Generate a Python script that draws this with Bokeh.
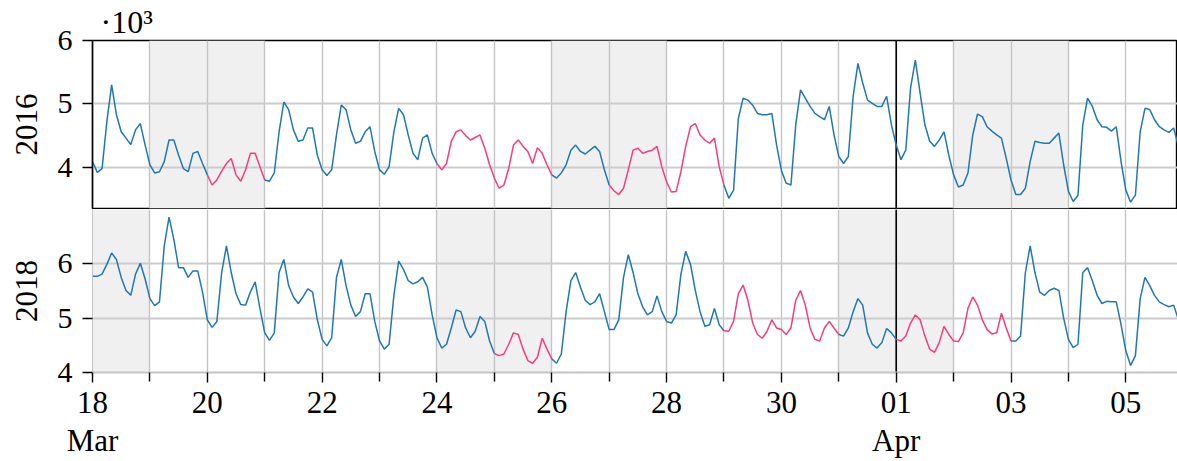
import pandas as pd
from bokeh.plotting import figure
from bokeh.layouts import column
from bokeh.models import (ColumnDataSource, FixedTicker, BoxAnnotation, Span,
                          Range1d, Grid)
from bokeh.embed import file_html
from bokeh.resources import INLINE

# ---------------- data ----------------
# two-hourly samples, Mar 18 00:00 .. Apr 5 22:00, shown on a common Mar/Apr axis
time_index = pd.date_range("2018-03-18 00:00", "2018-04-05 22:00", freq="2h")

# load, thousands (x10^3), 12 samples per day (0h, 2h, ... 22h)
load_2016 = [
    4.09, 3.92, 3.98, 4.72, 5.30, 4.83, 4.56, 4.46, 4.36, 4.59, 4.69, 4.35,  # Mar 18
    4.04, 3.91, 3.93, 4.09, 4.43, 4.43, 4.19, 3.98, 3.93, 4.22, 4.25, 4.06,  # Mar 19
    3.88, 3.72, 3.80, 3.94, 4.06, 4.14, 3.88, 3.78, 3.96, 4.22, 4.22, 4.01,  # Mar 20
    3.80, 3.78, 3.91, 4.56, 5.03, 4.91, 4.59, 4.41, 4.43, 4.62, 4.62, 4.19,  # Mar 21
    3.96, 3.87, 3.96, 4.51, 4.98, 4.91, 4.59, 4.38, 4.41, 4.56, 4.64, 4.25,  # Mar 22
    3.96, 3.89, 4.01, 4.56, 4.93, 4.83, 4.51, 4.22, 4.12, 4.46, 4.51, 4.22,  # Mar 23
    4.06, 3.96, 4.06, 4.41, 4.56, 4.59, 4.50, 4.43, 4.47, 4.51, 4.30, 4.04,  # Mar 24
    3.83, 3.67, 3.72, 3.98, 4.35, 4.43, 4.33, 4.25, 4.06, 4.31, 4.22, 4.04,  # Mar 25
    3.88, 3.83, 3.91, 4.04, 4.27, 4.35, 4.25, 4.21, 4.27, 4.33, 4.25, 3.96,  # Mar 26
    3.72, 3.63, 3.57, 3.67, 3.96, 4.27, 4.30, 4.22, 4.25, 4.27, 4.33, 4.01,  # Mar 27
    3.77, 3.61, 3.62, 3.93, 4.33, 4.64, 4.69, 4.51, 4.43, 4.38, 4.46, 4.01,  # Mar 28
    3.72, 3.51, 3.64, 4.77, 5.09, 5.06, 4.98, 4.85, 4.83, 4.83, 4.85, 4.35,  # Mar 29
    3.95, 3.75, 3.72, 4.67, 5.22, 5.09, 4.96, 4.85, 4.80, 4.75, 4.96, 4.51,  # Mar 30
    4.17, 4.06, 4.17, 5.12, 5.64, 5.33, 5.06, 5.01, 4.96, 4.96, 5.12, 4.67,  # Mar 31
    4.35, 4.12, 4.27, 5.25, 5.69, 5.17, 4.67, 4.41, 4.33, 4.43, 4.56, 4.19,  # Apr 01
    3.88, 3.69, 3.72, 3.91, 4.51, 4.84, 4.80, 4.64, 4.57, 4.51, 4.46, 4.14,  # Apr 02
    3.80, 3.57, 3.57, 3.67, 4.09, 4.41, 4.39, 4.38, 4.38, 4.46, 4.54, 4.04,  # Apr 03
    3.62, 3.46, 3.56, 4.67, 5.09, 4.96, 4.75, 4.64, 4.63, 4.57, 4.64, 4.09,  # Apr 04
    3.64, 3.45, 3.56, 4.56, 4.93, 4.91, 4.75, 4.64, 4.59, 4.55, 4.62, 4.33,  # Apr 05
]
load_2018 = [
    5.77, 5.77, 5.81, 5.99, 6.20, 6.08, 5.75, 5.51, 5.42, 5.81, 6.01, 5.72,  # Mar 18
    5.36, 5.23, 5.30, 6.33, 6.86, 6.45, 5.93, 5.93, 5.75, 5.87, 5.87, 5.48,  # Mar 19
    4.97, 4.83, 4.94, 5.84, 6.33, 5.84, 5.45, 5.25, 5.24, 5.48, 5.67, 5.18,  # Mar 20
    4.73, 4.59, 4.73, 5.84, 6.08, 5.60, 5.39, 5.27, 5.39, 5.54, 5.48, 4.97,  # Mar 21
    4.61, 4.49, 4.64, 5.75, 6.08, 5.60, 5.24, 5.03, 5.12, 5.45, 5.45, 4.94,  # Mar 22
    4.58, 4.43, 4.52, 5.42, 6.05, 5.90, 5.69, 5.63, 5.67, 5.75, 5.57, 5.06,  # Mar 23
    4.64, 4.45, 4.52, 4.82, 5.15, 5.12, 4.82, 4.64, 4.76, 5.03, 4.94, 4.58,  # Mar 24
    4.35, 4.31, 4.34, 4.52, 4.73, 4.70, 4.43, 4.22, 4.17, 4.28, 4.63, 4.43,  # Mar 25
    4.25, 4.17, 4.34, 5.12, 5.69, 5.84, 5.57, 5.33, 5.25, 5.30, 5.45, 5.12,  # Mar 26
    4.79, 4.79, 4.97, 5.75, 6.17, 5.84, 5.45, 5.21, 5.06, 5.12, 5.41, 5.12,  # Mar 27
    4.94, 4.91, 5.06, 5.81, 6.23, 5.99, 5.51, 5.12, 4.85, 4.88, 5.18, 4.88,  # Mar 28
    4.77, 4.76, 4.94, 5.45, 5.61, 5.33, 4.91, 4.70, 4.63, 4.76, 4.97, 4.82,  # Mar 29
    4.79, 4.70, 4.82, 5.33, 5.51, 5.24, 4.82, 4.61, 4.58, 4.82, 4.94, 4.82,  # Mar 30
    4.70, 4.67, 4.82, 5.12, 5.36, 5.24, 4.73, 4.52, 4.45, 4.55, 4.81, 4.73,  # Mar 31
    4.61, 4.58, 4.67, 4.91, 5.06, 4.97, 4.67, 4.43, 4.37, 4.55, 4.85, 4.70,  # Apr 01
    4.58, 4.57, 4.73, 5.18, 5.39, 5.24, 4.97, 4.79, 4.71, 4.73, 5.09, 4.82,  # Apr 02
    4.58, 4.58, 4.67, 5.84, 6.33, 5.84, 5.48, 5.42, 5.51, 5.55, 5.51, 5.00,  # Apr 03
    4.61, 4.46, 4.52, 5.84, 5.93, 5.69, 5.42, 5.27, 5.31, 5.30, 5.30, 4.88,  # Apr 04
    4.40, 4.13, 4.31, 5.36, 5.75, 5.60, 5.42, 5.30, 5.25, 5.21, 5.24, 4.97,  # Apr 05
]

weekend_2016 = ["03-19", "03-20", "03-26", "03-27", "04-02", "04-03"]
holiday_2016 = ["03-20", "03-24", "03-25", "03-27", "03-28"]
weekend_2018 = ["03-18", "03-24", "03-25", "03-31", "04-01"]
holiday_2018 = ["03-25", "03-29", "03-30", "04-01", "04-02"]

tick_dates = ["2018-03-18", "2018-03-20", "2018-03-22", "2018-03-24", "2018-03-26",
              "2018-03-28", "2018-03-30", "2018-04-01", "2018-04-03", "2018-04-05"]
tick_labels = ["18\nMar", "20", "22", "24", "26", "28", "30", "01\nApr", "03", "05"]
minor_dates = ["2018-03-19", "2018-03-21", "2018-03-23", "2018-03-25", "2018-03-27",
               "2018-03-29", "2018-03-31", "2018-04-02", "2018-04-04"]
month_break = "2018-04-01"
y_ticks = [4, 5, 6]

# ---------------- styling ----------------
BLUE = "#1f77b4"
PINK = "#f83c7c"
FONT = "Liberation Serif"
SHADE = "#f0f0f0"
GRID = "#c4c4c4"
TEXT = "black"


def ms(ts):
    return pd.Timestamp(ts).value / 1e6


x_ms = [ms(t) for t in time_index]
day = 86400000.0
x_start = ms("2018-03-18")
xr = Range1d(start=x_start, end=x_start + 18.9 * day)
xticker = FixedTicker(ticks=[ms(d) for d in tick_dates],
                      minor_ticks=[ms(d) for d in minor_dates])


def segments(values, holidays):
    keys = [t.strftime("%m-%d") in holidays for t in time_index]
    xs, ys, cs = [], [], []
    n = len(values)
    i = 0
    while i < n - 1:
        j = i
        while j + 1 < n - 1 and keys[j + 1] == keys[i]:
            j += 1
        xs.append(x_ms[i:j + 2])
        ys.append(values[i:j + 2])
        cs.append(PINK if keys[i] else BLUE)
        i = j + 1
    return ColumnDataSource(dict(xs=xs, ys=ys, color=cs))


def make_panel(values, holidays, weekends, yrange, label, height, top, bottom,
               show_x, title=None):
    p = figure(width=1177, height=height, x_range=xr, y_range=Range1d(*yrange),
               x_axis_type="datetime", x_axis_location="below" if show_x else None,
               output_backend="svg", toolbar_location=None,
               min_border_left=92, min_border_right=0,
               min_border_top=top, min_border_bottom=bottom)
    p.xgrid.visible = False
    p.ygrid.visible = False
    p.background_fill_color = "white"

    for d in weekends:
        left = ms("2018-" + d)
        p.add_layout(BoxAnnotation(left=left, right=left + day, fill_color=SHADE,
                                   fill_alpha=1.0, line_color=None, level="image"))

    p.add_layout(Grid(dimension=0, ticker=xticker, grid_line_color=GRID,
                      grid_line_width=1.4, minor_grid_line_color=GRID,
                      minor_grid_line_width=1.4))
    p.add_layout(Grid(dimension=1, ticker=FixedTicker(ticks=y_ticks),
                      grid_line_color="#cccccc", grid_line_width=2))
    p.add_layout(Span(location=ms(month_break), dimension="height",
                      line_color="black", line_width=1.6, level="underlay"))

    p.multi_line(xs="xs", ys="ys", line_color="color", line_width=1.5,
                 source=segments(values, holidays))

    ya = p.yaxis[0]
    ya.ticker = FixedTicker(ticks=y_ticks)
    ya.axis_label = label
    ya.axis_label_text_font = FONT
    ya.axis_label_text_font_size = "31px"
    ya.axis_label_text_font_style = "normal"
    ya.axis_label_text_color = TEXT
    ya.axis_label_standoff = 18
    ya.major_label_text_font = FONT
    ya.major_label_text_font_size = "30px"
    ya.major_label_text_color = TEXT
    ya.major_label_standoff = 10
    ya.major_tick_out = 10
    ya.major_tick_in = 0
    ya.major_tick_line_width = 1.4
    ya.minor_tick_line_color = None

    if show_x:
        xa = p.xaxis[0]
        xa.ticker = xticker
        xa.major_label_overrides = {ms(d): lab for d, lab in zip(tick_dates, tick_labels)}
        xa.major_label_text_font = FONT
        xa.major_label_text_font_size = "31px"
        xa.major_label_text_color = TEXT
        xa.major_label_text_line_height = 1.1
        xa.major_label_standoff = 2
        xa.major_tick_out = 10
        xa.major_tick_in = 0
        xa.minor_tick_out = 9
        xa.minor_tick_in = 0
        xa.major_tick_line_width = 1.4
        xa.minor_tick_line_width = 1.4
        xa.axis_line_color = "#c4c4c4"
        xa.axis_line_width = 2
        ya.axis_line_color = "#c4c4c4"
        p.outline_line_color = None
    else:
        ya.axis_line_color = "black"
        ya.axis_line_width = 1.4
        p.outline_line_color = "black"
        p.outline_line_width = 1.4
        p.outline_line_alpha = 1.0

    if title is not None:
        p.title.text = title
        p.title.text_font = FONT
        p.title.text_font_size = "32px"
        p.title.text_font_style = "normal"
        p.title.text_color = TEXT
        p.title.align = "left"
        p.title.offset = 8
        p.title.standoff = 2
    return p


p_top = make_panel(load_2016, holiday_2016, weekend_2016, (3.35, 6.0), "2016",
                   height=209, top=40, bottom=1, show_x=False, title="·10³")
p_bot = make_panel(load_2018, holiday_2018, weekend_2018, (4.0, 7.0), "2018",
                   height=252, top=0, bottom=86, show_x=True)

layout = column(p_top, p_bot, spacing=0)
open("out.html", "w").write(file_html(layout, INLINE))
